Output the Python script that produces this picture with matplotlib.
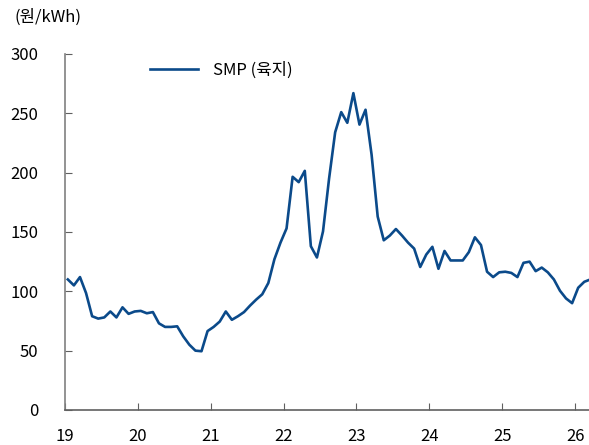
import matplotlib
matplotlib.use('Agg')
import matplotlib.pyplot as plt

plt.rcParams['font.family'] = ['Noto Sans CJK KR', 'DejaVu Sans']

# monthly SMP (mainland), Jan 2019 .. Mar 2026, won/kWh
smp = [110, 105, 112, 98.5, 79, 77, 78, 83, 78, 86.5, 81, 83,
       83.5, 81.5, 82.5, 73, 70, 70, 70.5, 62, 55, 50, 49.5, 66.5,
       70, 74.5, 83, 76, 79, 82.5, 88, 93, 97.5, 107, 127, 141,
       153, 196.5, 192, 201.5, 138, 128.5, 150.5, 195, 234, 251, 242, 267,
       240.5, 253, 215, 163, 143, 147, 152.5, 147, 141, 136, 120.5, 131,
       137.5, 119, 134, 126, 126, 126, 133, 145.5, 139, 116.5, 112, 116,
       116.5, 115.5, 112, 124, 125, 117, 120, 116, 110, 100.5, 94, 90,
       103, 108, 110]
years = [19, 20, 21, 22, 23, 24, 25, 26]
yticks = [0, 50, 100, 150, 200, 250, 300]

x = [19 + (i + 0.5) / 12.0 for i in range(len(smp))]

fig = plt.figure(figsize=(5.89, 4.45), dpi=100)
ax = fig.add_axes((0.110, 0.0787, 0.890, 0.80))
ax.plot(x, smp, color='#0b4a8a', lw=1.9, label='SMP (육지)')

ax.set_xlim(19, 26.19)
ax.set_ylim(0, 300)
ax.set_xticks(years)
ax.set_xticklabels([str(y) for y in years])
ax.set_yticks(yticks)

for s in ['top', 'right']:
    ax.spines[s].set_visible(False)
ax.spines['left'].set_color('#808080')
ax.spines['bottom'].set_color('#606060')
ax.spines['left'].set_linewidth(1.2)
ax.spines['bottom'].set_linewidth(1.2)

ax.tick_params(axis='x', direction='in', length=5, color='#606060',
               labelsize=12, pad=13)
ax.tick_params(axis='y', direction='in', length=5, color='#606060',
               labelsize=12, pad=19)

fig.text(0.024, 0.962, '(원/kWh)', fontsize=12, va='center', ha='left')

ax.legend(loc='upper left', bbox_to_anchor=(0.133, 1.02), frameon=False,
          fontsize=12, handlelength=2.9, handletextpad=0.9)

fig.savefig('out.png', dpi=100)
